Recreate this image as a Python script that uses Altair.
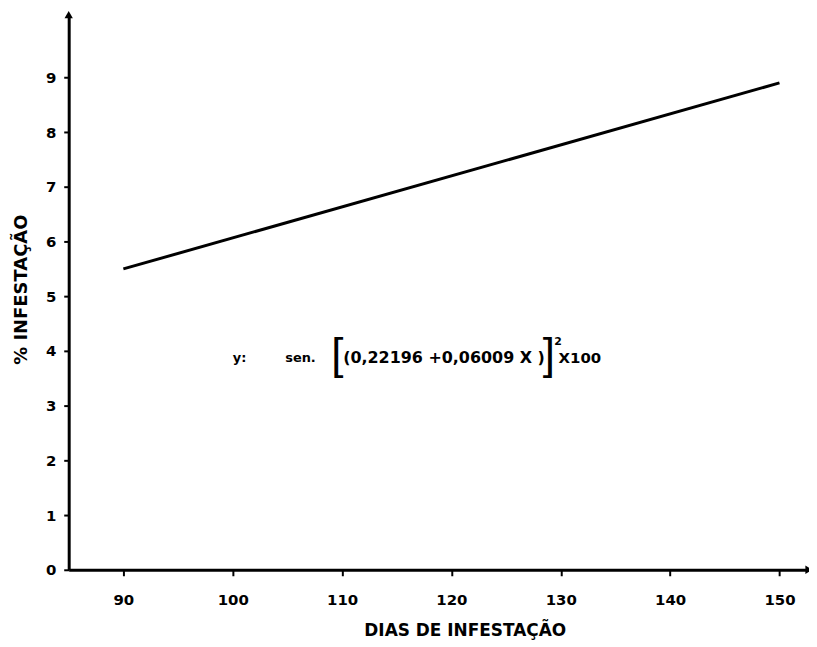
import altair as alt
import pandas as pd

# ---- data ----
dias = [90, 150]
infestacao = [5.5, 8.9]
x_ticks = [90, 100, 110, 120, 130, 140, 150]
y_ticks = [0, 1, 2, 3, 4, 5, 6, 7, 8, 9]
x_domain = [85, 152.7]
y_domain = [0, 10.15]

# equation annotation pieces
eq_text = ["y:", "sen.", "(0,22196 +0,06009 X )", "2", "X100"]
eq_x = [100.0, 104.8, 110.1, 129.4, 129.8]
eq_y = [3.87, 3.87, 3.87, 4.17, 3.87]
eq_size = [13, 13, 16, 11, 15]
br_text = ["[", "]"]
br_x = [109.0, 128.35]
br_y = [3.87, 3.87]

FONT = "DejaVu Sans"

df = pd.DataFrame({"dias": dias, "inf": infestacao})
eq = pd.DataFrame({"t": eq_text, "x": eq_x, "y": eq_y, "s": eq_size})
br = pd.DataFrame({"t": br_text, "x": br_x, "y": br_y})
arrows = pd.DataFrame({
    "x": [x_domain[0], x_domain[1]],
    "y": [y_domain[1], y_domain[0]],
    "shape": ["triangle-up", "triangle-right"],
})

xs = alt.Scale(domain=x_domain, nice=False, zero=False)
ys = alt.Scale(domain=y_domain, nice=False, zero=False)

line = alt.Chart(df).mark_line(color="black", strokeWidth=3).encode(
    x=alt.X("dias:Q", scale=xs, axis=alt.Axis(
        values=x_ticks, title="DIAS DE INFESTAÇÃO", titleX=398, titleY=61,
        titleAlign="center", titleBaseline="middle", labelPadding=17,
        tickSize=6, titleFontSize=17, labelFontSize=15)),
    y=alt.Y("inf:Q", scale=ys, axis=alt.Axis(
        values=y_ticks, title="% INFESTAÇÃO", titleX=-47, titleY=276,
        titleAngle=-90, titleAlign="center", titleBaseline="middle",
        labelPadding=8, tickSize=5, titleFontSize=18, labelFontSize=15)),
)

eq_marks = alt.Chart(eq).mark_text(
    font=FONT, fontWeight="bold", align="left", baseline="middle", color="black"
).encode(
    x=alt.X("x:Q", scale=xs),
    y=alt.Y("y:Q", scale=ys),
    text="t:N",
    size=alt.Size("s:Q", scale=None, legend=None),
)

br_marks = alt.Chart(br).mark_text(
    font="Liberation Sans", fontWeight="normal", fontSize=44,
    align="left", baseline="middle", color="black", dy=-2
).encode(
    x=alt.X("x:Q", scale=xs),
    y=alt.Y("y:Q", scale=ys),
    text="t:N",
)

arrow_marks = alt.Chart(arrows).mark_point(
    filled=True, color="black", size=70, opacity=1
).encode(
    x=alt.X("x:Q", scale=xs),
    y=alt.Y("y:Q", scale=ys),
    shape=alt.Shape("shape:N", scale=None, legend=None),
)

chart = alt.layer(line, eq_marks, br_marks, arrow_marks).properties(
    width=744, height=558,
    autosize=alt.AutoSizeParams(type="none"),
    padding={"left": 61, "top": 5, "right": 0, "bottom": 72},
).configure_view(stroke=None).configure_axis(
    grid=False, domainColor="black", domainWidth=3, tickColor="black",
    tickWidth=2, labelColor="black", titleColor="black",
    labelFont=FONT, titleFont=FONT, labelFontWeight="bold",
    titleFontWeight="bold",
)

chart.save("out.html", embed_options={"renderer": "svg", "actions": False})
